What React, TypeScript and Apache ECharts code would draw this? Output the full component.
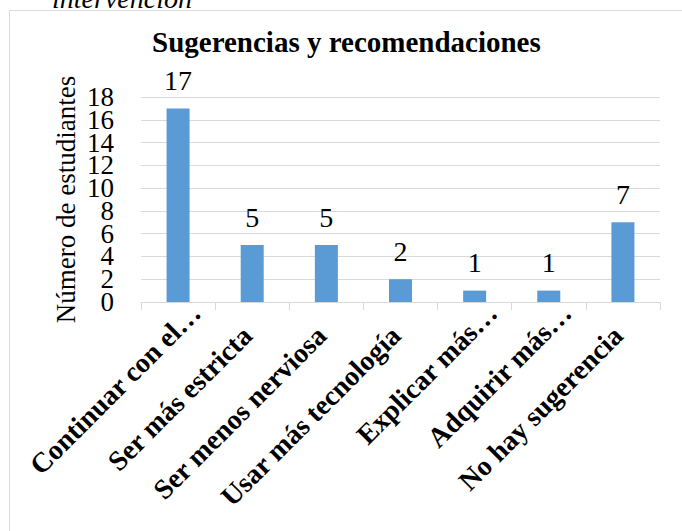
import React, { useEffect, useRef } from "react";
import * as echarts from "echarts";

const categories = [
  "Continuar con el…",
  "Ser más estricta",
  "Ser menos nerviosa",
  "Usar más tecnología",
  "Explicar más…",
  "Adquirir más…",
  "No hay sugerencia",
];
const values = [17, 5, 5, 2, 1, 1, 7];
const yTicks = [0, 2, 4, 6, 8, 10, 12, 14, 16, 18];
const yTickLabels = ["0", "2", "4", "6", "8", "10", "12", "14", "16", "18"];
const titleText = "Sugerencias y recomendaciones";
const yAxisName = "Número de estudiantes";
const captionText = "intervención";

const SERIF = '"Liberation Serif", "Times New Roman", serif';

export default function App() {
  const ref = useRef<HTMLDivElement>(null);
  useEffect(() => {
    if (!ref.current) return;
    const chart = echarts.init(ref.current, undefined, { renderer: "svg" });
    const catData = categories.map((c) =>
      c.endsWith("…")
        ? { value: c, textStyle: { padding: [-10, -25, 0, 0] } }
        : { value: c, textStyle: { padding: [-6, 7, 0, 0] } }
    );
    chart.setOption({
      animation: false,
      backgroundColor: "#ffffff",
      textStyle: { fontFamily: SERIF },
      title: {
        text: titleText,
        left: 152,
        top: 27,
        padding: 0,
        textStyle: { fontFamily: SERIF, fontWeight: "bold", fontSize: 29, color: "#000" },
      },
      graphic: [
        {
          type: "rect",
          shape: { x: 9.5, y: 10.5, width: 700, height: 600 },
          style: { fill: "none", stroke: "#d9d9d9", lineWidth: 1 },
          silent: true,
        },
        {
          type: "text",
          x: 52,
          y: 12,
          style: {
            text: captionText,
            font: `italic 28px ${SERIF}`,
            fill: "#000",
            verticalAlign: "bottom",
          },
          silent: true,
        },
      ],
      grid: { left: 141, right: 22, top: 97, bottom: 229, containLabel: false },
      xAxis: {
        type: "category",
        data: catData,
        axisLine: { lineStyle: { color: "#d9d9d9" } },
        axisTick: { show: true, length: 8, alignWithLabel: false, lineStyle: { color: "#d9d9d9" } },
        axisLabel: {
          interval: 0,
          rotate: 45,
          align: "right",
          verticalAlign: "top",
          fontFamily: SERIF,
          fontWeight: "bold",
          fontSize: 28,
          color: "#000",
          margin: 24,
        },
      },
      yAxis: {
        type: "value",
        min: 0,
        max: 18,
        interval: 2,
        name: yAxisName,
        nameLocation: "middle",
        nameRotate: 90,
        nameGap: 62,
        nameTextStyle: { fontFamily: SERIF, fontSize: 27, color: "#000" },
        axisLine: { show: false },
        axisTick: { show: false },
        splitLine: { lineStyle: { color: "#d9d9d9" } },
        axisLabel: { show: false },
      },
      series: [
        {
          type: "bar",
          data: values,
          barWidth: 23,
          itemStyle: { color: "#5b9bd5" },
          label: {
            show: true,
            position: "top",
            distance: 14,
            fontFamily: SERIF,
            fontSize: 28,
            color: "#000",
          },
        },
        {
          type: "custom",
          silent: true,
          clip: false,
          data: yTicks.map((v, i) => [0, v, i]),
          renderItem: (params: any, api: any) => {
            const pt = api.coord([api.value(0), api.value(1)]);
            const band = api.size([1, 0])[0];
            const idx = api.value(2);
            return {
              type: "text",
              x: pt[0] - band / 2 - 27,
              y: pt[1],
              style: {
                text: yTickLabels[idx],
                font: `27px ${SERIF}`,
                fill: "#000",
                align: "right",
                verticalAlign: "middle",
              },
            };
          },
        },
      ],
    });
    return () => chart.dispose();
  }, []);
  return (
    <div
      ref={ref}
      style={{ position: "absolute", left: 0, top: 0, width: 682, height: 531 }}
    />
  );
}
